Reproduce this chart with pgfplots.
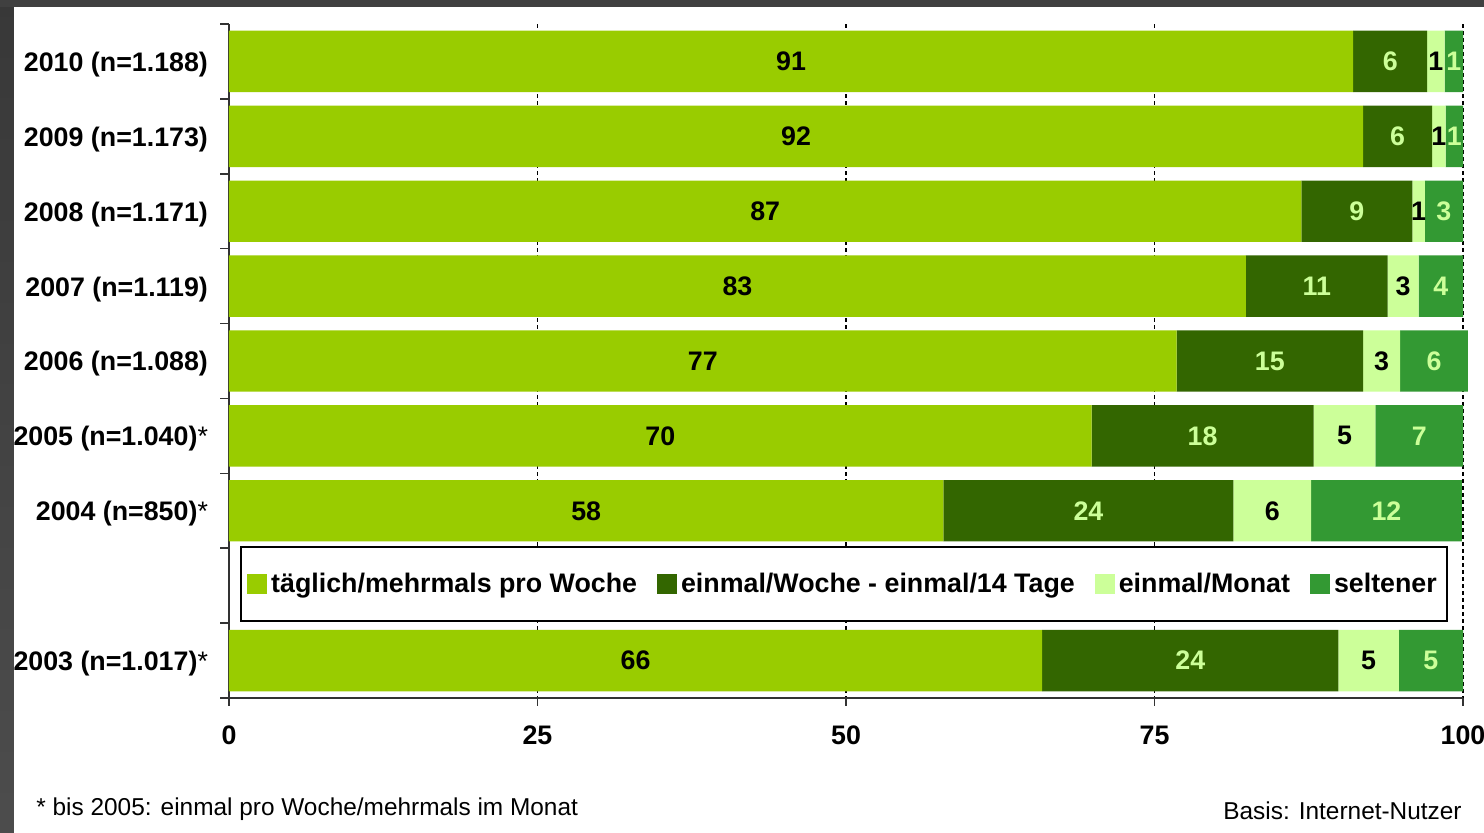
\documentclass[border=0pt]{standalone}
\usepackage{fontspec}
\setmainfont{Liberation Sans}
\usepackage{pgfplots}
\usepackage{pgfplotstable}
\pgfplotsset{compat=1.18}
\definecolor{cA}{HTML}{99CC00}
\definecolor{cB}{HTML}{336600}
\definecolor{cC}{HTML}{CCFF99}
\definecolor{cD}{HTML}{339933}
\definecolor{lab}{HTML}{CCFF99}

\pgfplotstableread{
y  a    b    c   d    la lb lc ld
0  91.1 6.0  1.4 1.5  91 6  1  1
1  91.9 5.6  1.1 1.4  92 6  1  1
2  86.9 9.0  1.0 3.1  87 9  1  3
3  82.4 11.5 2.5 3.6  83 11 3  4
4  76.8 15.1 3.0 5.5  77 15 3  6
5  69.9 18.0 5.0 7.1  70 18 5  7
6  57.9 23.5 6.3 12.2 58 24 6  12
8  65.9 24.0 4.9 5.2  66 24 5  5
}\data

\newcommand\bfs{\fontsize{13.4}{15}\selectfont\bfseries}

\begin{document}
\begin{tikzpicture}[x=0.5pt,y=0.5pt]
\shade[top color=black!78, middle color=black!50, bottom color=black!70] (0,0) rectangle (1484,833);
\fill[black!75] (0,826) rectangle (1484,833);
\fill[white] (14,0) rectangle (1484,826);
\begin{axis}[
  at={(114.5pt,67.5pt)}, anchor=south west,
  scale only axis, width=617pt, height=337pt,
  clip=false,
  xbar stacked, bar width=0.82,
  xmin=0, xmax=100, ymin=-0.5, ymax=8.5, y dir=reverse,
  axis x line*=bottom, axis y line*=left,
  axis line style={black!80, line width=1pt},
  xtick={0,25,50,75,100},
  xmajorgrids,
  major x grid style={black, line width=0.6pt, dash pattern=on 2pt off 1.5pt},
  major x tick style={black!80, line width=0.8pt},
  tick align=outside, major tick length=4pt,
  ytick={0,1,2,3,4,5,6,8},
  yticklabels={{2010 (n=1.188)},{2009 (n=1.173)},{2008 (n=1.171)},{2007 (n=1.119)},{2006 (n=1.088)},{2005 (n=1.040){\mdseries*}},{2004 (n=850){\mdseries*}},{2003 (n=1.017){\mdseries*}}},
  major y tick style={draw=none},
  minor ytick={-0.5,0.5,...,8.5},
  minor y tick style={black!80, line width=0.8pt}, minor tick length=4.5pt,
  tick label style={font=\bfs},
  yticklabel style={xshift=-3pt, yshift=-1.5pt},
  xticklabel style={yshift=-6.5pt},
  /pgf/number format/assume math mode=true,
  legend style={at={(0.4984,0.1691)}, anchor=center, legend columns=4, draw=black, line width=0.75pt,
    inner xsep=3pt, inner ysep=11pt, font=\bfs,
    /tikz/every even column/.append style={column sep=8pt}},
  legend cell align=left,
  legend image code/.code={\fill[#1,draw=none] (0pt,-5pt) rectangle (10pt,5pt);},
  nodes near coords,
  point meta=explicit symbolic,
  every node near coord/.append style={anchor=center, font=\bfs},
]
\addplot[fill=cA, draw=none, every node near coord/.append style={text=black}]
  table[x=a, y=y, meta=la] {\data};
\addplot[fill=cB, draw=none, every node near coord/.append style={text=lab}]
  table[x=b, y=y, meta=lb] {\data};
\addplot[fill=cC, draw=none, every node near coord/.append style={text=black}]
  table[x=c, y=y, meta=lc] {\data};
\addplot[fill=cD, draw=none, every node near coord/.append style={text=lab}]
  table[x=d, y=y, meta=ld] {\data};
\legend{täglich/mehrmals pro Woche, einmal/Woche - einmal/14 Tage, einmal/Monat, seltener}
\end{axis}
\node[anchor=base west, font=\fontsize{12.2}{14}\selectfont, inner sep=0pt] at (36,17) {* bis 2005: einmal pro Woche/mehrmals im Monat};
\node[anchor=base east, font=\fontsize{12.2}{14}\selectfont, inner sep=0pt] at (1462,13) {Basis: Internet-Nutzer};
\pgfresetboundingbox
\useasboundingbox (0,0) rectangle (1484,833);
\end{tikzpicture}
\end{document}
